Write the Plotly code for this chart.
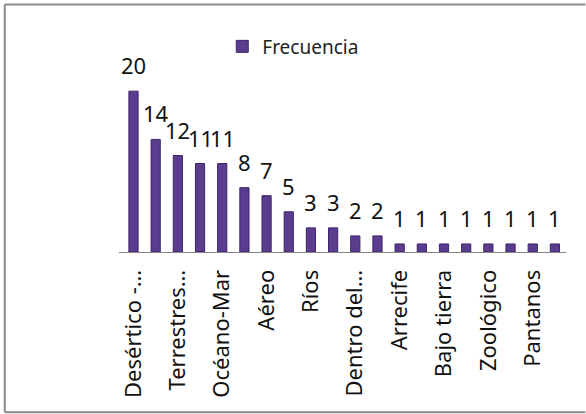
import plotly.graph_objects as go

# ---- data ----
categories = [
    "Desértico -…", "Categoría 2", "Terrestres…", "Categoría 4", "Océano-Mar",
    "Categoría 6", "Aéreo", "Categoría 8", "Ríos", "Categoría 10",
    "Dentro del…", "Categoría 12", "Arrecife", "Categoría 14", "Bajo tierra",
    "Categoría 16", "Zoológico", "Categoría 18", "Pantanos", "Categoría 20",
]
values = [20, 14, 12, 11, 11, 8, 7, 5, 3, 3, 2, 2, 1, 1, 1, 1, 1, 1, 1, 1]
series_name = "Frecuencia"
tick_categories = categories[::2]
tick_labels = ["Desértico -…", "Terrestres…", "Océano-Mar", "Aéreo", "Ríos",
               "Dentro del…", "Arrecife", "Bajo tierra", "Zoológico", "Pantanos"]

FONT = "Noto Sans"
W, H = 586, 414
ML, MR, MT, MB = 118.5, 19.5, 58.5, 162.3
plot_w = W - ML - MR
plot_h = H - MT - MB


def px_x(x):
    return (x - ML) / plot_w


def px_y(y):
    return (H - MB - y) / plot_h


fig = go.Figure()
fig.add_trace(go.Bar(
    x=categories, y=values, name=series_name,
    marker=dict(color="#5B3C8F", line=dict(color="#3E2569", width=1)),
    showlegend=True,
))

for c, v in zip(categories, values):
    fig.add_annotation(x=c, y=v, text=str(v), showarrow=False,
                       yanchor="bottom", xanchor="center", yshift=9,
                       font=dict(family=FONT, size=22, color="#111111"))

# outer frame (left, top, bottom)
frame = dict(color="#8a8a8a", width=2)
fig.add_shape(type="line", xref="paper", yref="paper",
              x0=px_x(4), x1=px_x(4), y0=px_y(4), y1=px_y(412), line=frame)
fig.add_shape(type="line", xref="paper", yref="paper",
              x0=px_x(4), x1=px_x(586), y0=px_y(4), y1=px_y(4), line=frame)
fig.add_shape(type="line", xref="paper", yref="paper",
              x0=px_x(4), x1=px_x(586), y0=px_y(412), y1=px_y(412), line=frame)

fig.update_layout(
    width=W, height=H, autosize=False,
    margin=dict(l=ML, r=MR, t=MT, b=MB, pad=0),
    paper_bgcolor="white", plot_bgcolor="white",
    bargap=0.585,
    font=dict(family=FONT, color="#111111"),
    legend=dict(orientation="h", x=px_x(222), y=px_y(46),
                xanchor="left", yanchor="middle",
                font=dict(family=FONT, size=19, color="#222222"),
                bgcolor="rgba(0,0,0,0)", itemwidth=30),
    xaxis=dict(type="category", showline=True, linecolor="#868686", linewidth=1,
               ticks="", tickangle=-90, tickmode="array",
               tickvals=tick_categories, ticktext=tick_labels,
               tickfont=dict(family=FONT, size=22, color="#111111"),
               showgrid=False, zeroline=False, ticklabelstandoff=8),
    yaxis=dict(visible=False, range=[0, 24], showgrid=False, zeroline=False),
)

fig.write_html(
    "out.html",
    config={"displayModeBar": False},
    post_script="document.body.style.margin='0';document.body.style.overflow='hidden';",
)
